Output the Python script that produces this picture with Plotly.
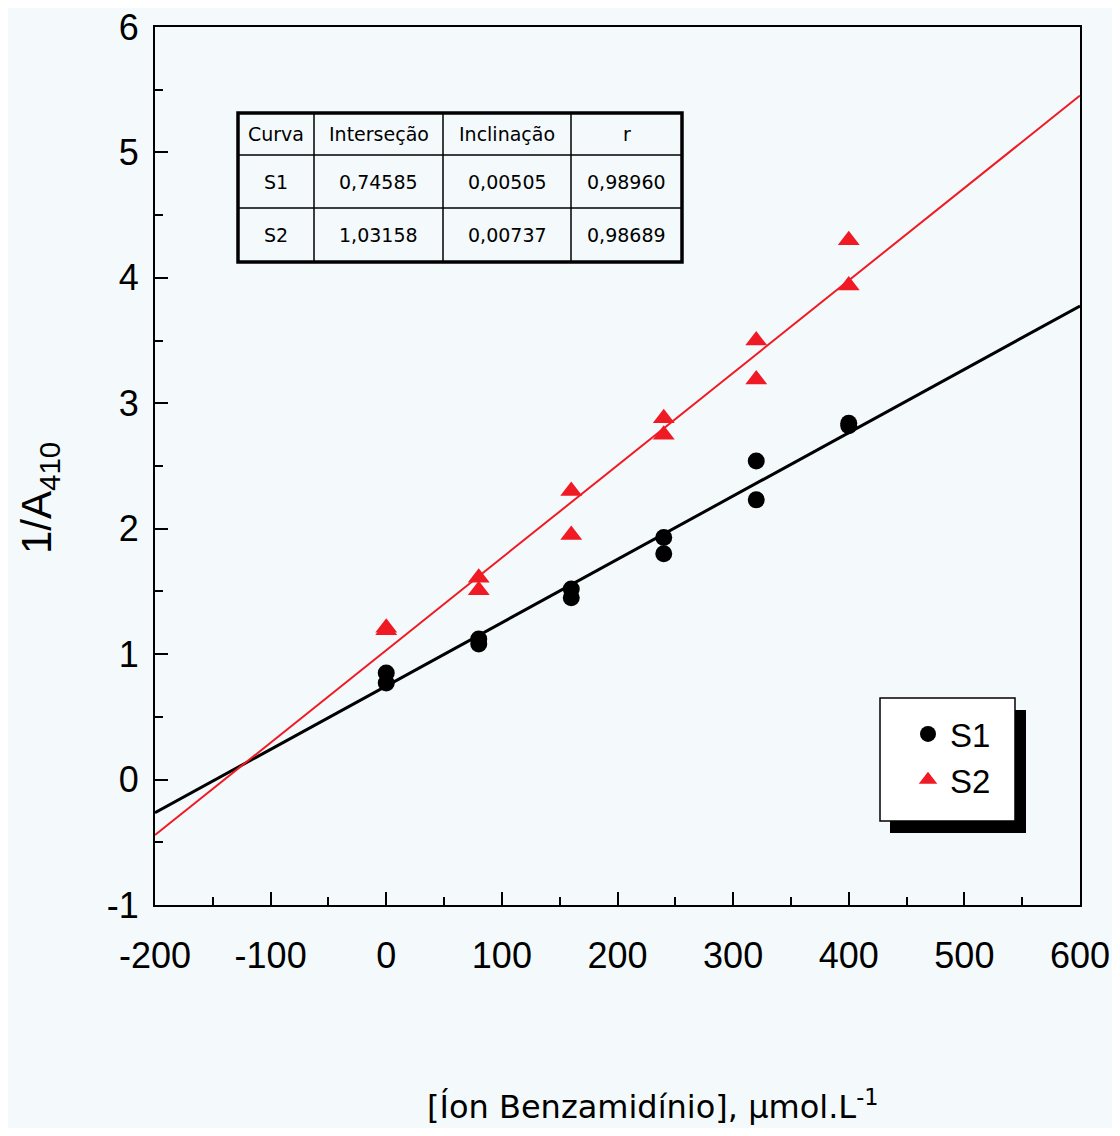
import plotly.graph_objects as go

# ---------------- data ----------------
conc_s1 = [0, 0, 80, 80, 160, 160, 240, 240, 320, 320, 400, 400]
inv_a_s1 = [0.85, 0.77, 1.12, 1.08, 1.52, 1.45, 1.93, 1.80, 2.54, 2.23, 2.84, 2.82]
conc_s2 = [0, 0, 80, 80, 160, 160, 240, 240, 320, 320, 400, 400]
inv_a_s2 = [1.21, 1.19, 1.61, 1.51, 2.30, 1.95, 2.88, 2.75, 3.50, 3.19, 4.30, 3.94]

table_header = ["Curva", "Interseção", "Inclinação", "r"]
table_curves = ["S1", "S2"]
table_intercept = ["0,74585", "1,03158"]
table_slope = ["0,00505", "0,00737"]
table_r = ["0,98960", "0,98689"]
intercepts = [0.74585, 1.03158]
slopes = [0.00505, 0.00737]

fit_x = [-200, 600]
x_ticks = [-200, -100, 0, 100, 200, 300, 400, 500, 600]
x_tick_labels = ["-200", "-100", "0", "100", "200", "300", "400", "500", "600"]
y_ticks = [-1, 0, 1, 2, 3, 4, 5, 6]
y_tick_labels = ["-1", "0", "1", "2", "3", "4", "5", "6"]

# ---------------- geometry helpers (page pixel -> paper) ----------------
OFF = 8  # default body margin of the html page
W, H = 1120 - 2 * OFF, 1136 - 2 * OFF
PLOT_L, PLOT_R, PLOT_T, PLOT_B = 155, 1080, 27, 905  # page pixels
L, T = PLOT_L - OFF, PLOT_T - OFF
R = W - (PLOT_R - OFF)
B = H - (PLOT_B - OFF)
PW, PH = W - L - R, H - T - B


def px(xp):
    return (xp - OFF - L) / PW


def py(yp):
    return 1 - (yp - OFF - T) / PH


BG = "#f4fafc"
RED = "#f01a24"
AXFONT = "Liberation Sans, Arial, sans-serif"
TBLFONT = "DejaVu Sans, Verdana, sans-serif"

fig = go.Figure()

# fit lines from the table coefficients
line_colors = [("black", 3), (RED, 2)]
for b0, b1, (c, w) in zip(intercepts, slopes, line_colors):
    fig.add_trace(go.Scatter(
        x=fit_x, y=[b0 + b1 * v for v in fit_x], mode="lines",
        line=dict(color=c, width=w), showlegend=False, hoverinfo="skip"))

fig.add_trace(go.Scatter(
    x=conc_s1, y=inv_a_s1, mode="markers", name="S1",
    marker=dict(symbol="circle", size=17, color="black")))
fig.add_trace(go.Scatter(
    x=conc_s2, y=inv_a_s2, mode="markers", name="S2",
    marker=dict(symbol="triangle-up", size=19, color=RED)))

axis_common = dict(
    showline=True, linecolor="black", linewidth=2, mirror=True,
    ticks="inside", ticklen=13, tickwidth=2, tickcolor="black",
    showgrid=False, zeroline=False, ticklabeloverflow="allow",
    automargin=False,
)

fig.update_xaxes(range=[-200, 600], tickvals=x_ticks, ticktext=x_tick_labels,
                 tickfont=dict(family=AXFONT, size=36, color="black"),
                 minor=dict(ticks="inside", ticklen=8, tickwidth=2,
                            tickcolor="black", dtick=50, showgrid=False),
                 ticklabelstandoff=18, **axis_common)
fig.update_yaxes(range=[-1, 6], tickvals=y_ticks, ticktext=y_tick_labels,
                 tickfont=dict(family=AXFONT, size=36, color="black"),
                 minor=dict(ticks="inside", ticklen=8, tickwidth=2,
                            tickcolor="black", dtick=0.5, showgrid=False),
                 ticklabelstandoff=7, **axis_common)

shapes = []
annotations = []

# ---------- inset table ----------
col_edges = [238, 314, 443, 571, 682]
row_edges = [113, 155, 208, 262]
for xe in col_edges[1:-1]:
    shapes.append(dict(type="line", xref="paper", yref="paper",
                       x0=px(xe), x1=px(xe), y0=py(row_edges[0]), y1=py(row_edges[-1]),
                       line=dict(color="black", width=1.5)))
for ye in row_edges[1:-1]:
    shapes.append(dict(type="line", xref="paper", yref="paper",
                       x0=px(col_edges[0]), x1=px(col_edges[-1]), y0=py(ye), y1=py(ye),
                       line=dict(color="black", width=1.5)))
shapes.append(dict(type="rect", xref="paper", yref="paper",
                   x0=px(col_edges[0]), x1=px(col_edges[-1]),
                   y0=py(row_edges[0]), y1=py(row_edges[-1]),
                   line=dict(color="black", width=3.5), fillcolor="rgba(0,0,0,0)"))

rows = [table_header] + [list(r) for r in zip(table_curves, table_intercept, table_slope, table_r)]
for ri, row in enumerate(rows):
    yc = (row_edges[ri] + row_edges[ri + 1]) / 2
    for ci, txt in enumerate(row):
        xc = (col_edges[ci] + col_edges[ci + 1]) / 2
        annotations.append(dict(x=px(xc), y=py(yc), xref="paper", yref="paper",
                                text=txt, showarrow=False,
                                font=dict(family=TBLFONT, size=19, color="black"),
                                xanchor="center", yanchor="middle"))

# ---------- legend box with drop shadow ----------
shapes.append(dict(type="rect", xref="paper", yref="paper",
                   x0=px(890), x1=px(1026), y0=py(833), y1=py(710),
                   line=dict(width=0), fillcolor="black", layer="above"))
shapes.append(dict(type="rect", xref="paper", yref="paper",
                   x0=px(880), x1=px(1015), y0=py(821), y1=py(698),
                   line=dict(color="black", width=1.5), fillcolor="white", layer="above"))

# ---------- axis titles ----------
annotations.append(dict(x=px(652), y=py(1105), xref="paper", yref="paper",
                        text="[Íon Benzamidínio], μmol.L<sup>-1</sup>", showarrow=False,
                        font=dict(family=TBLFONT, size=32, color="black"),
                        xanchor="center", yanchor="middle"))
annotations.append(dict(x=px(40), y=py(498), xref="paper", yref="paper",
                        text="1/A<sub>410</sub>", showarrow=False, textangle=-90,
                        font=dict(family=AXFONT, size=42, color="black"),
                        xanchor="center", yanchor="middle"))

fig.update_layout(
    template="none",
    width=W, height=H,
    margin=dict(l=L, r=R, t=T, b=B, pad=0),
    paper_bgcolor=BG, plot_bgcolor=BG,
    shapes=shapes, annotations=annotations,
    showlegend=True,
    legend=dict(x=px(906), y=py(706), xanchor="left", yanchor="top",
                bgcolor="rgba(0,0,0,0)", borderwidth=0,
                font=dict(family=AXFONT, size=33, color="black"),
                itemwidth=34, tracegroupgap=0),
)

fig.write_html("out.html")
